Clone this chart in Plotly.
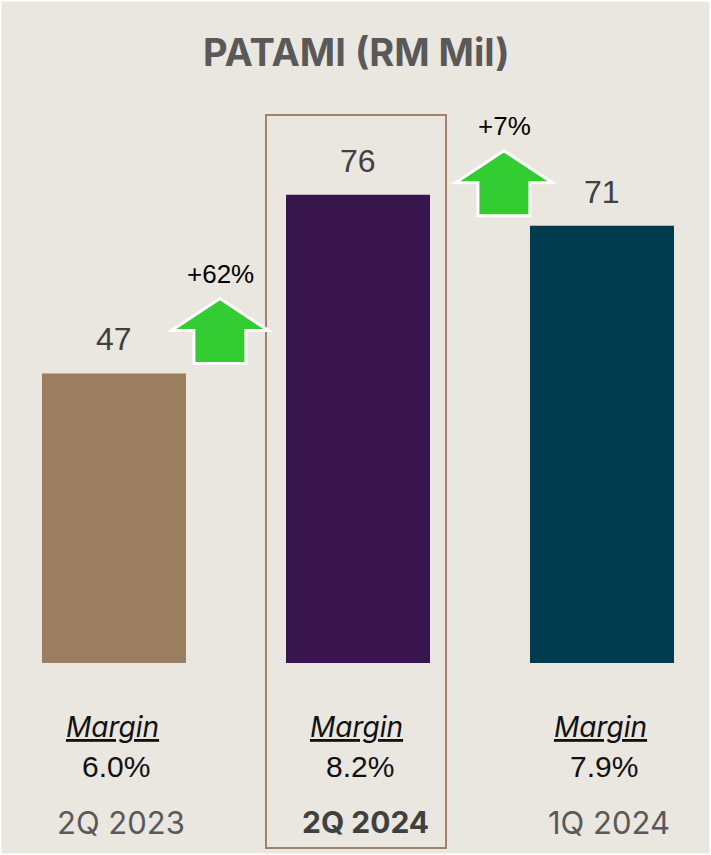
import plotly.graph_objects as go

categories = ["2Q 2023", "2Q 2024", "1Q 2024"]
values = [47, 76, 71]
margins = ["6.0%", "8.2%", "7.9%"]
bar_colors = ["#9B7D5F", "#38154C", "#003B4F"]
changes = ["+62%", "+7%"]
change_from = [0, 2]          # index of bar the change is measured from
arrow_x = [0.434, 1.598]      # horizontal placement of arrows (category units)

W, H = 711, 855
PX_X = 244.0     # pixels per category unit
PX_Y = 6.16      # pixels per value unit
X0_PX = 114      # pixel of first category
Y0_PX = 663      # pixel of value 0

def px_to_y(py):
    return (Y0_PX - py) / PX_Y

xr = [-X0_PX / PX_X, (W - X0_PX) / PX_X]
yr = [px_to_y(H), px_to_y(0)]

BG = "#EAE6E0"
fig = go.Figure()
fig.add_trace(go.Bar(
    x=list(range(len(categories))), y=values,
    marker=dict(color=bar_colors, line=dict(width=0)),
    width=144 / PX_X, hoverinfo="skip",
))

ann = []
shapes = []

# title
ann.append(dict(text="<b>PATAMI (RM Mil)</b>", x=0.502, xref="paper", y=px_to_y(52), yref="y",
                showarrow=False, font=dict(family="Inter", size=38, color="#595959"),
                xanchor="center", yanchor="middle"))

# value labels
for i, v in enumerate(values):
    ann.append(dict(text=str(v), x=i, y=v, xref="x", yref="y", showarrow=False,
                    yanchor="middle", yshift=34,
                    font=dict(family="Liberation Sans, Arial", size=32, color="#404040")))

# margin labels and category labels
for i, (m, c) in enumerate(zip(margins, categories)):
    ann.append(dict(text="<u><i>Margin</i></u>", x=i - 0.008, y=px_to_y(727), xref="x", yref="y",
                    showarrow=False, yanchor="middle",
                    font=dict(family="Inter", size=28, color="#111111")))
    ann.append(dict(text=m, x=i + 0.008, y=px_to_y(766), xref="x", yref="y",
                    showarrow=False, yanchor="middle",
                    font=dict(family="Liberation Sans, Arial", size=30, color="#111111")))
    bold = (i == 1)
    ann.append(dict(text=(f"<b>{c}</b>" if bold else c), x=i + 0.03, y=px_to_y(822), xref="x", yref="y",
                    showarrow=False, yanchor="middle",
                    font=dict(family="Inter", size=(30 if bold else 31),
                              color="#404040" if bold else "#595959")))

# highlight box around current quarter
shapes.append(dict(type="rect", xref="x", yref="y",
                   x0=1 - 92 / PX_X, x1=1 + 88 / PX_X,
                   y0=px_to_y(848), y1=px_to_y(115),
                   line=dict(color="#A0836A", width=2), fillcolor="rgba(0,0,0,0)",
                   layer="below"))

# arrows
half_w = 48.5 / PX_X
half_shaft = 26 / PX_X
tot_h = 65 / PX_Y
shaft_h = 33 / PX_Y
for ch, fi, ax in zip(changes, change_from, arrow_x):
    base = values[fi] + 1.6
    top = base + tot_h
    neck = base + shaft_h
    path = (f"M {ax - half_shaft} {base} L {ax + half_shaft} {base} "
            f"L {ax + half_shaft} {neck} L {ax + half_w} {neck} "
            f"L {ax} {top} L {ax - half_w} {neck} L {ax - half_shaft} {neck} Z")
    shapes.append(dict(type="path", path=path, xref="x", yref="y",
                       fillcolor="#33CC33", line=dict(color="white", width=3)))
    ann.append(dict(text=ch, x=ax + 0.004, y=top, xref="x", yref="y", showarrow=False,
                    yanchor="middle", yshift=25,
                    font=dict(family="Liberation Sans, Arial", size=26, color="#000000")))

# thin white frame at page edge
shapes.append(dict(type="rect", xref="paper", yref="paper", x0=0, x1=1, y0=0, y1=1,
                   line=dict(color="white", width=3), fillcolor="rgba(0,0,0,0)"))

fig.update_layout(
    width=W, height=H,
    margin=dict(l=0, r=0, t=0, b=0),
    paper_bgcolor=BG, plot_bgcolor=BG,
    showlegend=False,
    xaxis=dict(range=xr, visible=False, fixedrange=True),
    yaxis=dict(range=yr, visible=False, fixedrange=True),
    annotations=ann, shapes=shapes,
)
fig.write_html("out.html", config={"displayModeBar": False},
               post_script="document.body.style.margin='0';document.body.style.overflow='hidden';")
